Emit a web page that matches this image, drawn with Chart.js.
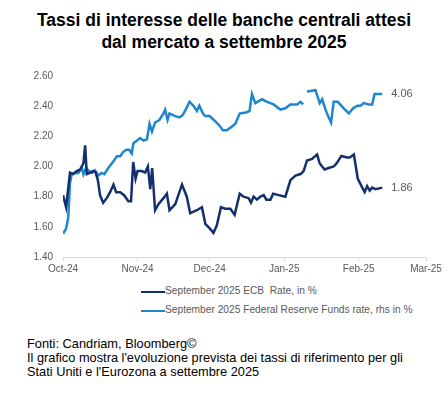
<!DOCTYPE html>
<html>
<head>
<meta charset="utf-8">
<script src="https://cdn.jsdelivr.net/npm/chart.js@4/dist/chart.umd.min.js"></script>
<style>
  html, body { margin: 0; padding: 0; background: #fff; }
  body { width: 448px; height: 396px; position: relative; overflow: hidden; font-family: "Liberation Sans", Arial, sans-serif; }
  #title { position: absolute; left: 0; top: 9px; width: 448px; text-align: center; font-weight: bold; font-size: 17.5px; line-height: 22px; color: #000; }
  #wrap { position: absolute; left: 0; top: 60px; width: 448px; height: 220px; }
  #legend { position: absolute; left: 141px; top: 284px; font-size: 10.2px; color: #595959; }
  .li { position: relative; height: 18.5px; white-space: pre; }
  .sw { position: absolute; left: 0; top: 7px; width: 24px; height: 2px; }
  .lt { position: absolute; left: 24px; top: 1px; }
  #notes { position: absolute; left: 27px; top: 337px; font-size: 12.8px; line-height: 14px; color: #000; }
</style>
</head>
<body>
<div id="title">Tassi di interesse delle banche centrali attesi<br>dal mercato a settembre 2025</div>
<div id="wrap"><canvas id="c"></canvas></div>
<div id="legend"></div>
<div id="notes">Fonti: Candriam, Bloomberg©<br>Il grafico mostra l'evoluzione prevista dei tassi di riferimento per gli<br>Stati Uniti e l'Eurozona a settembre 2025</div>
<script>
// Days since 1 Oct 2024 for month tick marks, and their labels
const monthDays = [0, 31, 61, 92, 123, 151];
const monthLabels = ["Oct-24", "Nov-24", "Dec-24", "Jan-25", "Feb-25", "Mar-25"];

const seriesNames = ["September 2025 ECB  Rate, in %", "September 2025 Federal Reserve Funds rate, rhs in %"];

// ECB expected rate (left axis), day offsets since 1 Oct 2024
const ecbDays = [0, 1.3, 2.9, 4.2, 5.7, 7.1, 8.5, 9.2, 9.9, 11.3, 12.6, 13.6, 14.5, 15.4, 16.7, 18.2, 19.6, 21, 22.1, 23.8, 25.4, 27.2, 28.3, 29.2, 30.2, 31, 32.8, 34.2, 35.3, 36.3, 37.1, 38.3, 39.7, 41.8, 43.2, 44.3, 46.7, 49.5, 51.5, 52.9, 55.7, 57.8, 59.2, 61, 62.6, 64, 65.7, 67.5, 69.6, 71.4, 73.5, 75.1, 77.2, 78.2, 79.3, 80.7, 82.1, 83.5, 84.6, 86.3, 87.4, 89.7, 92.5, 94.6, 96.7, 98.8, 100.1, 101.5, 103.6, 105.7, 106.8, 108.8, 110.5, 112.6, 113.8, 115.8, 118.2, 119.3, 121, 122.6, 124.5, 125.5, 126.5, 127.6, 128.6, 130, 132.8];
const ecbValues = [1.81, 1.73, 1.96, 1.95, 1.97, 1.98, 2.02, 2.14, 1.95, 1.96, 1.97, 1.96, 1.91, 1.81, 1.76, 1.79, 1.83, 1.88, 1.83, 1.83, 1.81, 1.77, 1.77, 2.03, 1.92, 1.97, 1.97, 1.96, 2.00, 1.85, 1.99, 1.71, 1.75, 1.79, 1.82, 1.71, 1.75, 1.88, 1.80, 1.69, 1.71, 1.73, 1.62, 1.59, 1.56, 1.61, 1.73, 1.72, 1.72, 1.68, 1.82, 1.80, 1.79, 1.76, 1.80, 1.78, 1.80, 1.81, 1.78, 1.78, 1.82, 1.81, 1.80, 1.91, 1.94, 1.95, 1.97, 2.04, 2.05, 2.08, 2.02, 1.98, 1.99, 2.00, 2.02, 2.07, 2.06, 2.06, 2.08, 1.92, 1.86, 1.83, 1.87, 1.84, 1.86, 1.85, 1.86];

// Fed funds expected rate (right-hand scale, hidden); null = missing data
const fedDays = [0, 1.3, 2.2, 2.9, 3.6, 5, 6.4, 7.8, 8.5, 9.6, 10.5, 12, 13.3, 14.7, 16.1, 17.2, 18.9, 21, 22.4, 23.8, 24.9, 26.3, 27.5, 28.6, 29.3, 30.7, 32.1, 33.5, 34.9, 36, 37, 38.3, 40.1, 41.8, 42.5, 43.5, 44.3, 46.7, 48.5, 49.9, 51.3, 52.6, 54.3, 55.7, 56.7, 58.2, 59.2, 61, 63.3, 65.4, 66.5, 68.2, 70.3, 71.7, 73.5, 76.5, 77.6, 78.6, 80, 82.8, 84.9, 87.6, 90.4, 92.5, 94.6, 97.4, 98.8, 99.9, 100.7, 101.5, 105, 106.8, 107.8, 109.2, 110.5, 111.5, 112.6, 114.3, 116.8, 118.9, 120.7, 122.4, 123.8, 125.1, 127.2, 128.6, 129.6, 131.4, 132.8];
const fedValues = [2.98, 3.02, 3.11, 3.37, 3.44, 3.45, 3.45, 3.49, 3.44, 3.49, 3.47, 3.45, 3.47, 3.43, 3.45, 3.44, 3.49, 3.54, 3.58, 3.58, 3.61, 3.63, 3.63, 3.60, 3.68, 3.70, 3.72, 3.70, 3.71, 3.83, 3.77, 3.84, 3.86, 3.91, 3.94, 3.86, 3.91, 3.89, 3.88, 3.90, 3.95, 4.00, 3.97, 3.93, 3.97, 3.91, 3.89, 3.89, 3.85, 3.81, 3.78, 3.78, 3.81, 3.83, 3.91, 3.92, 3.93, 4.06, 3.99, 4.02, 4.00, 3.98, 3.94, 3.95, 3.98, 3.98, 4.00, 3.98, null, 4.08, 4.09, 3.99, 4.02, 3.94, 3.88, 3.84, 4.00, 4.00, 3.95, 3.91, 3.95, 3.97, 3.97, 3.99, 3.98, 3.98, 4.06, 4.06, 4.06];

const colors = ["#13306e", "#1d86cf"];

const toPts = (xs, ys) => xs.map((x, i) => ({ x: x, y: ys[i] }));

// HTML legend
const leg = document.getElementById('legend');
seriesNames.forEach((n, i) => {
  const d = document.createElement('div');
  d.className = 'li';
  d.innerHTML = '<span class="sw" style="background:' + colors[i] + '"></span><span class="lt"></span>';
  d.querySelector('.lt').textContent = n;
  leg.appendChild(d);
});

const endLabels = {
  id: 'endLabels',
  afterDatasetsDraw(chart) {
    const ctx = chart.ctx;
    ctx.save();
    ctx.font = '11px "Liberation Sans", Arial, sans-serif';
    ctx.fillStyle = '#595959';
    ctx.textBaseline = 'middle';
    ctx.textAlign = 'left';
    chart.data.datasets.forEach((ds, i) => {
      const meta = chart.getDatasetMeta(i);
      const last = meta.data[meta.data.length - 1];
      const v = ds.data[ds.data.length - 1].y;
      ctx.fillText(v.toFixed(2), last.x + 9, last.y);
    });
    ctx.restore();
  }
};

new Chart(document.getElementById('c'), {
  type: 'line',
  data: {
    datasets: [
      { label: seriesNames[0], data: toPts(ecbDays, ecbValues), yAxisID: 'y', borderColor: colors[0], borderWidth: 2.5, pointRadius: 0, tension: 0, spanGaps: false },
      { label: seriesNames[1], data: toPts(fedDays, fedValues), yAxisID: 'y1', borderColor: colors[1], borderWidth: 2.5, pointRadius: 0, tension: 0, spanGaps: false }
    ]
  },
  options: {
    responsive: true,
    maintainAspectRatio: false,
    animation: false,
    layout: { padding: { top: 14.5, right: 22, left: 0, bottom: 0 } },
    plugins: { legend: { display: false }, tooltip: { enabled: false } },
    scales: {
      x: {
        type: 'linear', min: 0, max: 151,
        afterBuildTicks: (s) => { s.ticks = monthDays.map(v => ({ value: v })); },
        afterFit: (s) => { s.height = 23; },
        ticks: {
          autoSkip: false, maxRotation: 0, color: '#595959', padding: 2,
          font: { family: '"Liberation Sans", Arial, sans-serif', size: 10 },
          callback: (v) => { const i = monthDays.indexOf(v); return i >= 0 ? monthLabels[i] : ''; }
        },
        grid: { drawOnChartArea: false, drawTicks: true, tickLength: 4, color: '#d9d9d9' },
        border: { display: true, color: '#d9d9d9', width: 1 }
      },
      y: {
        position: 'left', min: 1.4, max: 2.6,
        afterFit: (s) => { s.width = 63; },
        ticks: {
          stepSize: 0.2, color: '#595959', padding: 10,
          font: { family: '"Liberation Sans", Arial, sans-serif', size: 10 },
          callback: (v) => Number(v).toFixed(2)
        },
        grid: { display: false, drawTicks: false },
        border: { display: false }
      },
      y1: {
        position: 'right', min: 2.8, max: 4.2, display: false
      }
    }
  },
  plugins: [endLabels]
});
</script>
</body>
</html>
